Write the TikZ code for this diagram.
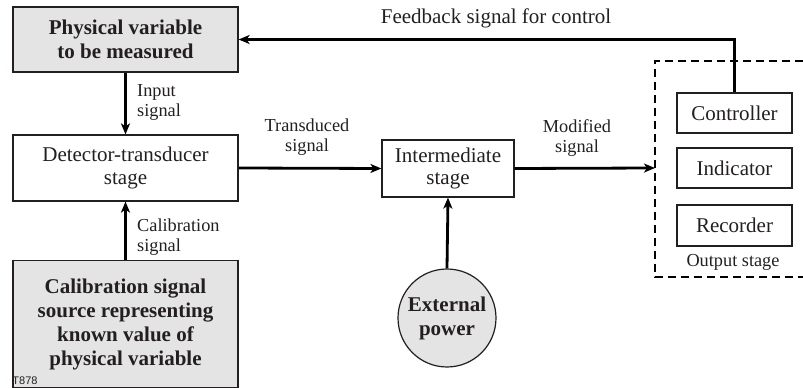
\documentclass[tikz,border=0pt]{standalone}
\usepackage{fontspec}
\setmainfont{Liberation Serif}
\newfontfamily\tagfont{Liberation Sans}
\usepackage{xcolor}
\usetikzlibrary{arrows.meta, positioning, shapes.geometric}
\definecolor{inkgray}{HTML}{231F20}
\definecolor{boxgray}{HTML}{E4E4E4}
\tikzset{
  stagebox/.style={
    draw=inkgray, line width=1.2pt, align=center, text=inkgray,
    font=\fontsize{21}{22.5}\selectfont, inner sep=2pt
  },
  sourcebox/.style={
    stagebox, fill=boxgray, font=\fontsize{21}{24}\selectfont\bfseries
  },
  sigarrow/.style={
    -{Stealth[length=11pt, width=9pt, inset=3pt]}, line width=2.8pt, draw=black
  },
  siglabel/.style={
    font=\fontsize{18.3}{20}\selectfont, text=inkgray, align=center,
    inner sep=0pt
  },
  outframe/.style={
    draw=black, line width=1.4pt, dash pattern=on 8pt off 5pt
  },
}
\begin{document}
\begin{tikzpicture}[x=1pt, y=1pt]
  \useasboundingbox (0,0) rectangle (803,388);

  % ── Left column ───────────────────────────────────────────────
  \node[sourcebox, minimum width=225pt, minimum height=65pt]
    (phys) at (125.5, 348.5) {Physical variable\\to be measured};
  \node[stagebox, minimum width=225pt, minimum height=66pt]
    (detect) at (125.5, 220) {Detector-transducer\\stage};
  \node[sourcebox, minimum width=225pt, minimum height=127pt]
    (calib) at (125.5, 64) {Calibration signal\\source representing\\known value of\\physical variable};
  \node[font=\tagfont\fontsize{11}{11}\selectfont, text=inkgray, inner sep=0pt]
    (tag) at (25, 7.5) {T878};

  % ── Middle ────────────────────────────────────────────────────
  \node[stagebox, minimum width=132pt, minimum height=57pt]
    (inter) at (448, 219.5) {Intermediate\\stage};
  \node[sourcebox, circle, minimum size=98pt, inner sep=0pt]
    (power) at (447, 70) {External\\power};

  % ── Output stage ──────────────────────────────────────────────
  \node[stagebox, minimum width=115pt, minimum height=40pt]
    (ctrl) at (734.5, 275) {Controller};
  \node[stagebox, minimum width=115pt, minimum height=40pt]
    (indic) at (734.5, 220) {Indicator};
  \node[stagebox, minimum width=115pt, minimum height=41pt]
    (record) at (734.5, 162.5) {Recorder};
  \node[siglabel] (outlabel) at (733, 126) {Output stage};

  \coordinate (outTL) at (655, 327);
  \coordinate (outBL) at (655, 111);
  \coordinate (outTR) at (803, 327);
  \coordinate (outBR) at (803, 111);
  \draw[outframe] (outTR) -- (outTL) -- (outBL) -- (outBR);
  \coordinate (outIn) at (655, 220);

  % ── Signals ───────────────────────────────────────────────────
  \draw[sigarrow] (phys.south) -- (detect.north);
  \node[siglabel, align=left, anchor=west] (inlabel) at (137, 286) {Input\\signal};

  \draw[sigarrow] (calib.north) -- (detect.south);
  \node[siglabel, align=left, anchor=west] (callabel) at (137, 151) {Calibration\\signal};

  \draw[sigarrow] (detect.east) -- (inter.west);
  \node[siglabel] (translabel) at (307, 251) {Transduced\\signal};

  \draw[sigarrow] (power.north) -- (inter.south);

  \draw[sigarrow] (inter.east) -- (outIn);
  \node[siglabel] (modlabel) at (577, 250) {Modified\\signal};

  \draw[sigarrow] (ctrl.north) |- (phys.east);
  \node[siglabel, font=\fontsize{21}{22}\selectfont] (fblabel) at (496, 370)
    {Feedback signal for control};
\end{tikzpicture}
\end{document}
